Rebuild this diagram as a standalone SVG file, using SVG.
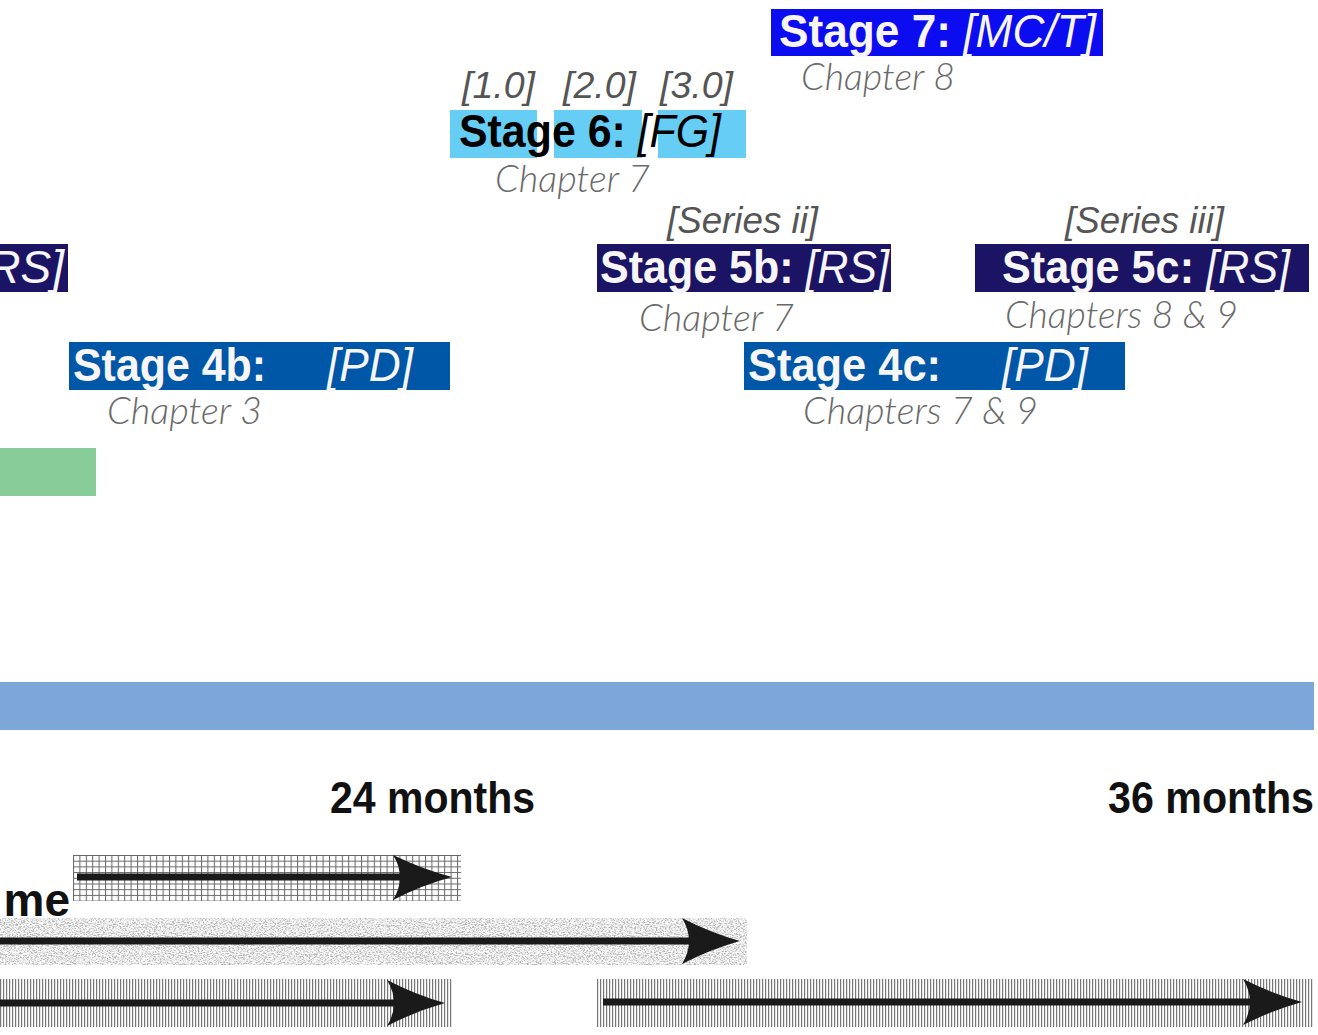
<svg xmlns="http://www.w3.org/2000/svg" width="1318" height="1035" viewBox="0 0 1318 1035">
<style>
.st{font-family:"Liberation Sans",Arial,sans-serif;font-weight:bold;font-size:46px;fill:#f7f5f5}
.it{font-style:italic;font-weight:normal}
.ch{font-family:Lato,Roboto,"Liberation Sans",sans-serif;font-weight:300;font-style:italic;font-size:37px;fill:#6a6a6a}
.lb{font-family:"Liberation Sans",Arial,sans-serif;font-style:italic;font-size:37px;fill:#555}
.mo{font-family:"Liberation Sans",Arial,sans-serif;font-weight:bold;font-size:44px;fill:#111}
.ln{stroke:#1a1a1a;stroke-width:7;fill:none}
.hd{fill:#1a1a1a}
</style>
<defs>
<pattern id="grid" x="73" y="855" width="6.4" height="5.7" patternUnits="userSpaceOnUse">
<rect width="6.4" height="5.7" fill="#fff"/>
<path d="M0.5 0V5.7M0 0.5H6.4" stroke="#666" stroke-width="1"/>
</pattern>
<pattern id="vl" x="0" y="979" width="3" height="10" patternUnits="userSpaceOnUse">
<rect width="3" height="10" fill="#fff"/>
<rect x="0" width="1.2" height="10" fill="#777"/>
</pattern>
<filter id="noise" x="0" y="0" width="100%" height="100%">
<feTurbulence type="fractalNoise" baseFrequency="0.55 0.9" numOctaves="2" seed="7" result="t"/>
<feColorMatrix in="t" type="matrix" values="0 0 0 0 0.45 0 0 0 0 0.45 0 0 0 0 0.45 3.2 0 0 0 -1.25" result="n"/>
<feFlood flood-color="#fff" result="w"/>
<feMerge result="m"><feMergeNode in="w"/><feMergeNode in="n"/></feMerge>
<feComposite in="m" in2="SourceAlpha" operator="in"/>
</filter>
</defs>

<g id="stage7">
<rect x="771" y="9" width="332" height="47" fill="#0c0cf0"/>
<text class="st" x="779" y="47" textLength="317" lengthAdjust="spacingAndGlyphs">Stage 7: <tspan class="it">[MC/T]</tspan></text>
<text class="ch" x="801" y="90" textLength="154" lengthAdjust="spacingAndGlyphs">Chapter 8</text>
</g>

<g id="stage6">
<rect x="450" y="110" width="87" height="48" fill="#66cdf5"/>
<rect x="554" y="110" width="88" height="48" fill="#66cdf5"/>
<rect x="658" y="110" width="88" height="48" fill="#66cdf5"/>
<text class="lb" x="462" y="98" textLength="73" lengthAdjust="spacingAndGlyphs">[1.0]</text>
<text class="lb" x="563" y="98" textLength="73" lengthAdjust="spacingAndGlyphs">[2.0]</text>
<text class="lb" x="660" y="98" textLength="73" lengthAdjust="spacingAndGlyphs">[3.0]</text>
<text class="st" x="459" y="147" textLength="262" lengthAdjust="spacingAndGlyphs" style="fill:#000">Stage 6: <tspan class="it">[FG]</tspan></text>
<text class="ch" x="495" y="192" textLength="155" lengthAdjust="spacingAndGlyphs">Chapter 7</text>
</g>

<g id="stage5a">
<rect x="0" y="244" width="68" height="48" fill="#1b1464"/>
<text class="st it" x="64" y="283" text-anchor="end" style="font-weight:normal">RS]</text>
</g>

<g id="stage5b">
<rect x="597" y="244" width="294" height="48" fill="#1b1464"/>
<text class="lb" x="667" y="233" textLength="151" lengthAdjust="spacingAndGlyphs">[Series ii]</text>
<text class="st" x="600" y="283" textLength="289" lengthAdjust="spacingAndGlyphs">Stage 5b: <tspan class="it">[RS]</tspan></text>
<text class="ch" x="639" y="331" textLength="155" lengthAdjust="spacingAndGlyphs">Chapter 7</text>
</g>

<g id="stage5c">
<rect x="975" y="244" width="334" height="48" fill="#1b1464"/>
<text class="lb" x="1065" y="233" textLength="159" lengthAdjust="spacingAndGlyphs">[Series iii]</text>
<text class="st" x="1002" y="283" textLength="288" lengthAdjust="spacingAndGlyphs">Stage 5c: <tspan class="it">[RS]</tspan></text>
<text class="ch" x="1005" y="328" textLength="233" lengthAdjust="spacingAndGlyphs">Chapters 8 &amp; 9</text>
</g>

<g id="stage4b">
<rect x="69" y="342" width="381" height="48" fill="#0057a8"/>
<text class="st" x="73" y="381" textLength="193" lengthAdjust="spacingAndGlyphs">Stage 4b:</text>
<text class="st it" x="327" y="381" textLength="86" lengthAdjust="spacingAndGlyphs">[PD]</text>
<text class="ch" x="107" y="424" textLength="155" lengthAdjust="spacingAndGlyphs">Chapter 3</text>
</g>

<g id="stage4c">
<rect x="744" y="342" width="381" height="48" fill="#0057a8"/>
<text class="st" x="748" y="381" textLength="193" lengthAdjust="spacingAndGlyphs">Stage 4c:</text>
<text class="st it" x="1002" y="381" textLength="86" lengthAdjust="spacingAndGlyphs">[PD]</text>
<text class="ch" x="803" y="424" textLength="235" lengthAdjust="spacingAndGlyphs">Chapters 7 &amp; 9</text>
</g>

<g id="green-bar">
<rect x="0" y="448" width="96" height="48" fill="#88cc9a"/>
</g>

<g id="blue-bar">
<rect x="0" y="682" width="1314" height="48" fill="#7da7d9"/>
</g>

<g id="scale">
<text class="mo" x="330" y="813" textLength="205" lengthAdjust="spacingAndGlyphs">24 months</text>
<text class="mo" x="1108" y="813" textLength="206" lengthAdjust="spacingAndGlyphs">36 months</text>
<text class="mo" x="70" y="916" text-anchor="end" style="font-size:46px">me</text>
</g>

<g id="connectors">
<rect x="73" y="855" width="388" height="46" fill="url(#grid)"/>
<rect x="0" y="918" width="747" height="47" fill="#fff" filter="url(#noise)"/>
<rect x="0" y="979" width="453" height="48" fill="url(#vl)"/>
<rect x="596" y="979" width="717" height="48" fill="url(#vl)"/>

<line class="ln" x1="77" y1="877" x2="420" y2="877"/>
<path class="hd" d="M452 877Q422 869 393 855Q407 877 393 900Q422 885 452 877Z"/>

<line class="ln" x1="0" y1="941" x2="710" y2="941"/>
<path class="hd" d="M740 941Q711 933 682 918Q696 941 682 964Q711 949 740 941Z"/>

<line class="ln" x1="0" y1="1003" x2="415" y2="1003"/>
<path class="hd" d="M445 1003Q416 995 387 980Q401 1003 387 1026Q416 1011 445 1003Z"/>

<line class="ln" x1="603" y1="1002" x2="1272" y2="1002"/>
<path class="hd" d="M1302 1002Q1273 994 1243 979Q1257 1002 1243 1025Q1273 1010 1302 1002Z"/>
</g>
</svg>
